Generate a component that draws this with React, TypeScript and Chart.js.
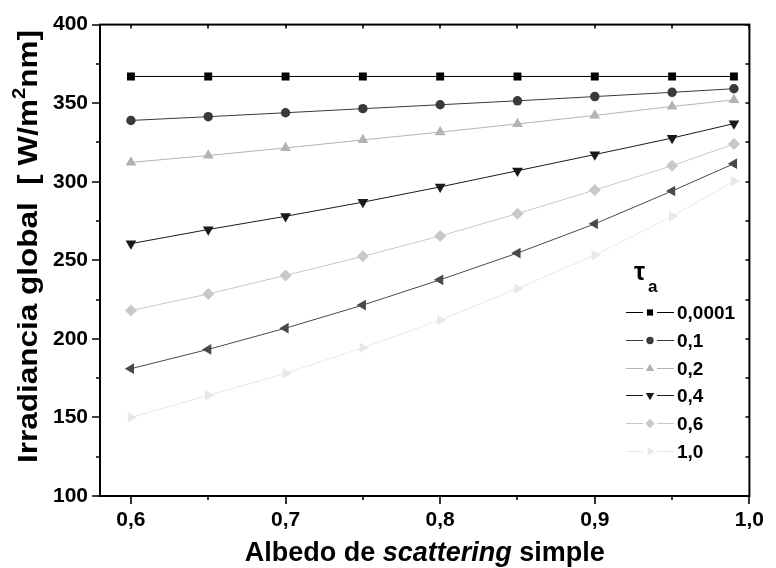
import React, { useEffect, useRef } from 'react';
import { Chart, registerables } from 'chart.js';
import { drawPoint } from 'chart.js/helpers';

Chart.register(...registerables);

// Single-scattering albedo (x) values
const albedo = [0.6, 0.65, 0.7, 0.75, 0.8, 0.85, 0.9, 0.95, 0.99];

// Global irradiance [W/m²nm] for each aerosol optical depth τa
const tau00001 = [367, 367, 367, 367, 367, 367, 367, 367, 367];
const tau01 = [339, 341.4, 343.9, 346.5, 349, 351.5, 354.2, 356.9, 359.2];
const tau02 = [312.3, 316.7, 321.5, 326.6, 331.6, 336.8, 342.2, 347.9, 352.1];
const tau04 = [260.6, 269.6, 278, 287, 296.7, 307, 317.3, 327.8, 337];
const tau06 = [218, 228.6, 240.4, 252.5, 265.5, 279.7, 294.7, 310.2, 324];
const tau08 = [181, 193.3, 206.8, 221.5, 237.6, 254.6, 273.2, 294.1, 311.5];
const tau10 = [150, 164, 178, 194.3, 212, 232, 253.3, 278, 300.4];

const seriesLabels = ['0,0001', '0,1', '0,2', '0,4', '0,6', '0,8', '1,0'];
const legendLabels = ['0,0001', '0,1', '0,2', '0,4', '0,6', '1,0'];

// Axis ticks
const xTicks = [0.6, 0.7, 0.8, 0.9, 1.0];
const xMinorTicks = [0.65, 0.75, 0.85, 0.95];
const yTicks = [100, 150, 200, 250, 300, 350, 400];
const yMinorTicks = [125, 175, 225, 275, 325, 375];

const FONT = '"Liberation Sans", Arial, sans-serif';

type SeriesStyle = { color: string; pointStyle: string; rotation: number; radius: number };
const styles: SeriesStyle[] = [
  { color: '#000000', pointStyle: 'rect', rotation: 0, radius: 5.6 },
  { color: '#3a3a3a', pointStyle: 'circle', rotation: 0, radius: 4.7 },
  { color: '#b2b2b2', pointStyle: 'triangle', rotation: 0, radius: 6.2 },
  { color: '#1a1a1a', pointStyle: 'triangle', rotation: 180, radius: 6.2 },
  { color: '#c8c8c8', pointStyle: 'rectRot', rotation: 0, radius: 6 },
  { color: '#4a4a4a', pointStyle: 'triangle', rotation: 270, radius: 6.2 },
  { color: '#e8e8e8', pointStyle: 'triangle', rotation: 90, radius: 6.2 },
];
const seriesValues = [tau00001, tau01, tau02, tau04, tau06, tau08, tau10];

// Box frame with outward ticks on bottom/left and inward ticks on top/right
const framePlugin = {
  id: 'frame',
  afterDraw(chart: any) {
    const { ctx, chartArea } = chart;
    const { left, right, top, bottom } = chartArea;
    const xs = chart.scales.x;
    const ys = chart.scales.y;
    ctx.save();
    ctx.strokeStyle = '#000';
    ctx.lineWidth = 2;
    ctx.strokeRect(left, top, right - left, bottom - top);
    ctx.lineWidth = 1.6;
    ctx.beginPath();
    const xAll = [...xTicks.map((v) => [v, 8]), ...xMinorTicks.map((v) => [v, 4])];
    for (const [v, len] of xAll) {
      const px = Math.round(xs.getPixelForValue(v));
      ctx.moveTo(px, bottom);
      ctx.lineTo(px, bottom + len);
      ctx.moveTo(px, top);
      ctx.lineTo(px, top + 4);
    }
    const yAll = [...yTicks.map((v) => [v, 8]), ...yMinorTicks.map((v) => [v, 4])];
    for (const [v, len] of yAll) {
      const py = Math.round(ys.getPixelForValue(v));
      ctx.moveTo(left, py);
      ctx.lineTo(left - len, py);
      ctx.moveTo(right, py);
      ctx.lineTo(right - 4, py);
    }
    ctx.stroke();
    ctx.restore();
  },
};

// Axis titles (mixed italic on x, superscript on y)
const titlesPlugin = {
  id: 'titles',
  afterDraw(chart: any) {
    const { ctx, chartArea } = chart;
    const cx = (chartArea.left + chartArea.right) / 2;
    ctx.save();
    ctx.fillStyle = '#000';
    ctx.textBaseline = 'alphabetic';
    ctx.textAlign = 'left';

    const xParts = [
      { t: 'Albedo de ', f: `bold 27px ${FONT}` },
      { t: 'scattering', f: `italic bold 27px ${FONT}` },
      { t: ' simple', f: `bold 27px ${FONT}` },
    ];
    let total = 0;
    for (const p of xParts) {
      ctx.font = p.f;
      total += ctx.measureText(p.t).width;
    }
    let x = cx - total / 2;
    for (const p of xParts) {
      ctx.font = p.f;
      ctx.fillText(p.t, x, 561);
      x += ctx.measureText(p.t).width;
    }

    const yParts = [
      { t: 'Irradiancia global  [ W/m', f: `bold 28px ${FONT}`, dy: 0 },
      { t: '2', f: `bold 18px ${FONT}`, dy: -12 },
      { t: 'nm]', f: `bold 28px ${FONT}`, dy: 0 },
    ];
    let ytot = 0;
    for (const p of yParts) {
      ctx.font = p.f;
      ytot += ctx.measureText(p.t).width;
    }
    // title runs from y≈463 (start) up to y≈30 (end)
    const span = 433;
    ctx.translate(37, 246.5);
    ctx.rotate(-Math.PI / 2);
    ctx.scale(span / ytot, 1);
    let yx = -ytot / 2;
    for (const p of yParts) {
      ctx.font = p.f;
      ctx.fillText(p.t, yx, p.dy);
      yx += ctx.measureText(p.t).width;
    }
    ctx.restore();
  },
};

// Legend with line–marker–line samples and τa heading
const legendPlugin = {
  id: 'tauLegend',
  afterDraw(chart: any) {
    const { ctx } = chart;
    ctx.save();
    ctx.fillStyle = '#000';
    ctx.textAlign = 'left';
    ctx.textBaseline = 'alphabetic';
    ctx.font = `bold 25px ${FONT}`;
    ctx.fillText('τ', 634, 280);
    ctx.font = `bold 17px ${FONT}`;
    ctx.fillText('a', 648, 292);

    let row = 0;
    chart.data.datasets.forEach((ds: any) => {
      if (!legendLabels.includes(ds.label)) return;
      const y = Math.round(312 + row * 27.8) + 0.5;
      ctx.strokeStyle = ds.borderColor;
      ctx.lineWidth = 1;
      ctx.beginPath();
      ctx.moveTo(626, y);
      ctx.lineTo(643, y);
      ctx.moveTo(657, y);
      ctx.lineTo(674, y);
      ctx.stroke();
      ctx.fillStyle = ds.pointBackgroundColor;
      drawPoint(ctx, { pointStyle: ds.pointStyle, rotation: ds.pointRotation, radius: ds.pointRadius * 0.78, borderWidth: 0 }, 650, y);
      ctx.fillStyle = '#000';
      ctx.font = `bold 19px ${FONT}`;
      ctx.textBaseline = 'middle';
      ctx.fillText(ds.label, 677, y + 1);
      row++;
    });
    ctx.restore();
  },
};

export default function App() {
  const canvasRef = useRef<HTMLCanvasElement | null>(null);

  useEffect(() => {
    document.body.style.margin = '0';
    const canvas = canvasRef.current;
    if (!canvas) return;

    const datasets = seriesValues.map((vals, i) => ({
      label: seriesLabels[i],
      data: vals.map((v, j) => ({ x: albedo[j], y: v })),
      borderColor: styles[i].color,
      backgroundColor: styles[i].color,
      pointBackgroundColor: styles[i].color,
      pointBorderColor: styles[i].color,
      pointBorderWidth: 0,
      pointStyle: styles[i].pointStyle,
      pointRotation: styles[i].rotation,
      pointRadius: styles[i].radius,
      borderWidth: 1,
      tension: 0,
      fill: false,
    }));

    const tickFont = { family: FONT, size: 21, weight: 'bold' as const };

    const chart = new Chart(canvas, {
      type: 'line',
      data: { datasets },
      options: {
        responsive: false,
        animation: false,
        layout: { padding: { top: 19, right: 19, left: 0, bottom: 0 } },
        plugins: {
          legend: { display: false },
          tooltip: { enabled: false },
        },
        scales: {
          x: {
            type: 'linear',
            min: 0.58,
            max: 1.0,
            afterBuildTicks: (s: any) => {
              s.ticks = xTicks.map((v) => ({ value: v }));
            },
            afterFit: (s: any) => {
              s.height = 72;
            },
            ticks: {
              callback: (v: any) => Number(v).toFixed(1).replace('.', ','),
              font: tickFont,
              color: '#000',
              padding: 12,
              maxRotation: 0,
              autoSkip: false,
            },
            grid: { display: false, drawTicks: false },
            border: { display: false },
          },
          y: {
            type: 'linear',
            min: 100,
            max: 400,
            afterBuildTicks: (s: any) => {
              s.ticks = yTicks.map((v) => ({ value: v }));
            },
            afterFit: (s: any) => {
              s.width = 100;
            },
            ticks: {
              callback: (v: any) => String(v),
              font: tickFont,
              color: '#000',
              padding: 12,
              autoSkip: false,
            },
            grid: { display: false, drawTicks: false },
            border: { display: false },
          },
        },
      },
      plugins: [framePlugin, titlesPlugin, legendPlugin],
    });

    return () => chart.destroy();
  }, []);

  return (
    <div style={{ width: 776, height: 568, background: '#fff' }}>
      <canvas ref={canvasRef} width={776} height={568} style={{ display: 'block', width: 776, height: 568 }} />
    </div>
  );
}
